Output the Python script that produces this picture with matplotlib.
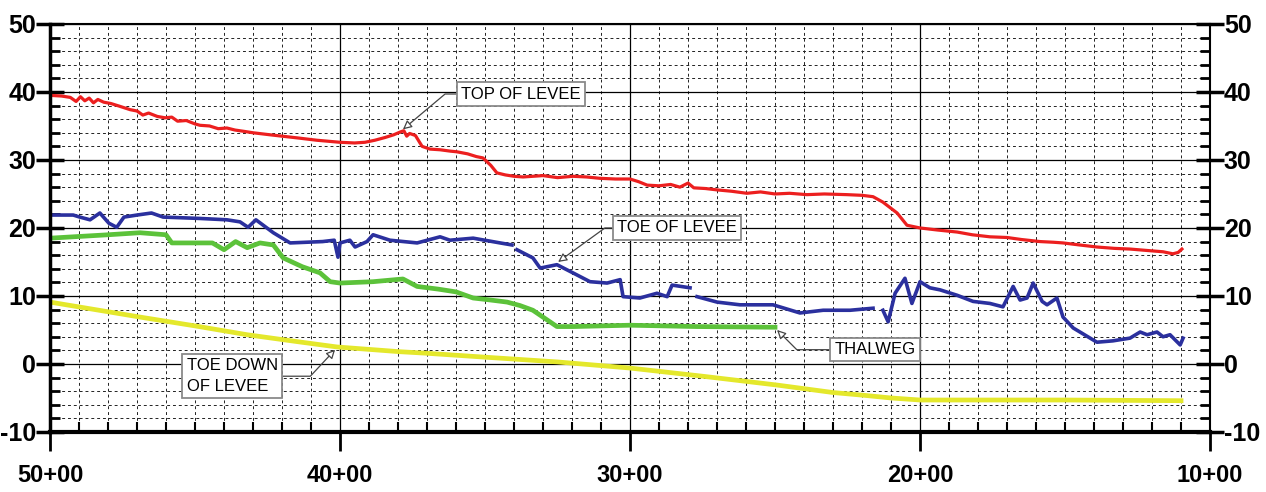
import matplotlib.pyplot as plt
import numpy as np
from matplotlib.ticker import MultipleLocator

plt.rcParams['font.family'] = ['Liberation Sans', 'DejaVu Sans']
plt.rcParams['font.weight'] = 'bold'   # heavy plotter-style tick labels

# Top of levee (station in ft, elevation)
top_sta = [5000, 4960, 4930, 4910, 4895, 4880, 4865, 4850, 4835, 4815, 4790, 4760,
           4724, 4700, 4680, 4660, 4630, 4603, 4580, 4560, 4530, 4500, 4483, 4450,
           4420, 4390, 4362, 4330, 4300, 4241, 4200, 4138, 4080, 4000, 3950, 3914,
           3880, 3845, 3815, 3793, 3780, 3770, 3760, 3740, 3717, 3690, 3655, 3620,
           3597, 3560, 3530, 3507, 3480, 3459, 3430, 3400, 3369, 3300, 3250, 3197,
           3150, 3103, 3050, 3000, 2970, 2941, 2900, 2860, 2828, 2800, 2780, 2740,
           2700, 2650, 2597, 2550, 2500, 2450, 2390, 2330, 2252, 2200, 2162, 2128,
           2079, 2045, 2000, 1940, 1872, 1820, 1759, 1700, 1650, 1586, 1540, 1507,
           1450, 1390, 1330, 1276, 1220, 1162, 1128, 1110, 1097]
top_elev = [39.5, 39.4, 39.2, 38.6, 39.3, 38.7, 39.1, 38.4, 38.9, 38.5, 38.3, 37.9,
            37.4, 37.2, 36.6, 36.9, 36.4, 36.2, 36.3, 35.7, 35.8, 35.3, 35.1, 35.0,
            34.6, 34.7, 34.4, 34.2, 34.0, 33.7, 33.5, 33.2, 32.9, 32.6, 32.5, 32.6,
            32.9, 33.3, 33.7, 34.1, 34.3, 33.5, 33.9, 33.6, 32.0, 31.6, 31.5, 31.3,
            31.2, 30.9, 30.5, 30.3, 29.2, 28.1, 27.8, 27.6, 27.5, 27.7, 27.4, 27.6,
            27.5, 27.3, 27.2, 27.2, 26.8, 26.3, 26.2, 26.4, 26.0, 26.6, 25.9, 25.8,
            25.6, 25.4, 25.1, 25.3, 25.0, 25.1, 24.9, 25.0, 24.9, 24.8, 24.6, 23.8,
            22.2, 20.4, 20.0, 19.7, 19.4, 19.0, 18.7, 18.6, 18.3, 18.0, 17.9, 17.8,
            17.5, 17.2, 17.0, 16.9, 16.7, 16.5, 16.2, 16.4, 16.9]

# Toe of levee (nan = gap in the survey line)
toe_sta = [5000, 4920, 4897, 4862, 4828, 4797, 4770, 4745, 4700, 4650, 4610, 4483,
           4390, 4345, 4317, 4290, 4230, 4172, 4060, 4020, 4007, 4000, 3966, 3948,
           3907, 3886, 3828, 3734, 3655, 3621, 3541, 3448, 3407, 3400, 3390, 3335,
           3310, 3252, 3197, 3138, 3079, 3034, 3024, 2966, 2907, 2872, 2855, 2793,
           2780, 2769, 2700, 2621, 2507, 2414, 2334, 2241, 2162, 2145, 2128, 2110,
           2086, 2052, 2028, 2000, 1966, 1931, 1872, 1817, 1759, 1714, 1679, 1655,
           1631, 1610, 1579, 1562, 1528, 1507, 1472, 1390, 1335, 1276, 1241, 1217,
           1183, 1162, 1138, 1103, 1093]
toe_elev = [21.9, 21.9, 21.6, 21.2, 22.2, 20.7, 20.1, 21.6, 21.9, 22.2, 21.6, 21.4,
            21.2, 20.9, 20.1, 21.2, 19.3, 17.8, 18.0, 18.2, 15.7, 17.8, 18.2, 17.2,
            18.0, 19.0, 18.2, 17.8, 18.7, 18.2, 18.5, 17.8, 17.5, np.nan, 16.8, 15.6,
            14.1, 14.6, 13.4, 12.1, 11.9, 12.4, 9.9, 9.7, 10.4, 9.9, 11.6, 11.2,
            np.nan, 9.9, 9.1, 8.7, 8.7, 7.5, 7.9, 7.9, 8.2, np.nan, 7.9, 6.2,
            10.4, 12.6, 8.9, 12.1, 11.2, 10.9, 10.1, 9.2, 8.9, 8.4, 11.4, 9.4,
            9.7, 11.9, 9.2, 8.7, 9.7, 6.9, 5.3, 3.2, 3.4, 3.8, 4.7, 4.3,
            4.7, 4.0, 4.3, 2.8, 3.8]

# Thalweg
thal_sta = [5000, 4800, 4690, 4600, 4580, 4517, 4440, 4400, 4360, 4320, 4276, 4230,
            4196, 4130, 4069, 4034, 4000, 3886, 3783, 3734, 3660, 3600, 3541, 3480,
            3424, 3380, 3335, 3290, 3252, 3197, 3000, 2769, 2500]
thal_elev = [18.5, 19.0, 19.3, 19.0, 17.8, 17.8, 17.8, 16.8, 18.0, 17.1, 17.8, 17.5,
             15.6, 14.3, 13.4, 12.1, 11.9, 12.1, 12.5, 11.4, 11.0, 10.6, 9.7, 9.4,
             9.1, 8.6, 7.9, 6.6, 5.5, 5.5, 5.7, 5.5, 5.4]

# Toe down of levee
down_sta = [5000, 4690, 4500, 4320, 4150, 4010, 3793, 3710, 3500, 3250, 3000, 2750,
            2493, 2300, 2195, 2100, 2000, 1500, 1100]
down_elev = [9.1, 6.9, 5.6, 4.3, 3.3, 2.5, 1.8, 1.6, 1.0, 0.3, -0.6, -1.8,
             -3.1, -4.2, -4.6, -5.0, -5.3, -5.3, -5.4]

x_ticks = [5000, 4000, 3000, 2000, 1000]
x_labels = ['50+00', '40+00', '30+00', '20+00', '10+00']
y_ticks = [-10, 0, 10, 20, 30, 40, 50]
y_labels = ['-10', '0', '10', '20', '30', '40', '50']

fig = plt.figure(figsize=(12.66, 4.92), dpi=100)
ax = fig.add_axes([0.0395, 0.122, 0.9163, 0.8293])

ax.plot(down_sta, down_elev, color='#e4e82c', lw=3.4)
ax.plot(thal_sta, thal_elev, color='#5cc23a', lw=3.4)
ax.plot(toe_sta, toe_elev, color='#2b309e', lw=2.6)
ax.plot(top_sta, top_elev, color='#ec1f1f', lw=2.3)

ax.set_xlim(5000, 1000)
ax.set_ylim(-10, 50)
ax.set_xticks(x_ticks)
ax.set_xticklabels(x_labels)
ax.xaxis.set_minor_locator(MultipleLocator(100))
ax.set_yticks(y_ticks)
ax.set_yticklabels(y_labels)
ax.yaxis.set_minor_locator(MultipleLocator(2))

# grid: solid major, dotted minor
ax.grid(which='major', color='black', lw=0.9)
ax.grid(which='minor', color='#222222', lw=0.7, linestyle=(0, (3, 3)))

ax.tick_params(axis='x', which='major', direction='out', length=14, width=2,
               labelsize=17, pad=9)
ax.tick_params(axis='x', which='minor', direction='in', length=7, width=1.5)
ax.tick_params(axis='y', which='major', direction='inout', length=20, width=2.5,
               labelsize=18, pad=0, left=True, right=True,
               labelleft=True, labelright=True)
ax.tick_params(axis='y', which='minor', direction='in', length=7, width=2,
               left=True, right=True)

ax.spines['left'].set_linewidth(2.5)
ax.spines['bottom'].set_linewidth(3)
ax.spines['top'].set_linewidth(1.5)
ax.spines['right'].set_linewidth(1.5)

box = dict(boxstyle='square,pad=0.25', fc='white', ec='#8a8a8a', lw=1.3)
arrow = dict(arrowstyle='-|>', fc='white', ec='#444444', lw=0.9,
             shrinkA=0, shrinkB=0, mutation_scale=13)

ax.annotate('TOP OF LEVEE', xy=(3783, 34.5), xytext=(3376, 39.7),
            fontsize=12, fontweight='normal', ha='center', va='center', bbox=box,
            arrowprops=dict(arrow, connectionstyle='angle,angleA=0,angleB=40,rad=0'))
ax.annotate('TOE OF LEVEE', xy=(3248, 15.0), xytext=(2838, 20.0),
            fontsize=12, fontweight='normal', ha='center', va='center', bbox=box,
            arrowprops=dict(arrow, connectionstyle='angle,angleA=0,angleB=36,rad=0'))
ax.annotate('THALWEG', xy=(2493, 5.0), xytext=(2155, 2.1),
            fontsize=12, fontweight='normal', ha='center', va='center', bbox=box,
            arrowprops=dict(arrow, connectionstyle='angle,angleA=0,angleB=-45,rad=0'))
ax.annotate('TOE DOWN\nOF LEVEE', xy=(4017, 2.1), xytext=(4372, -1.8),
            fontsize=12, fontweight='normal', ha='center', va='center',
            multialignment='left', linespacing=1.5, bbox=box,
            arrowprops=dict(arrow, connectionstyle='angle,angleA=0,angleB=47,rad=0'))

fig.savefig('out.png', dpi=100)
